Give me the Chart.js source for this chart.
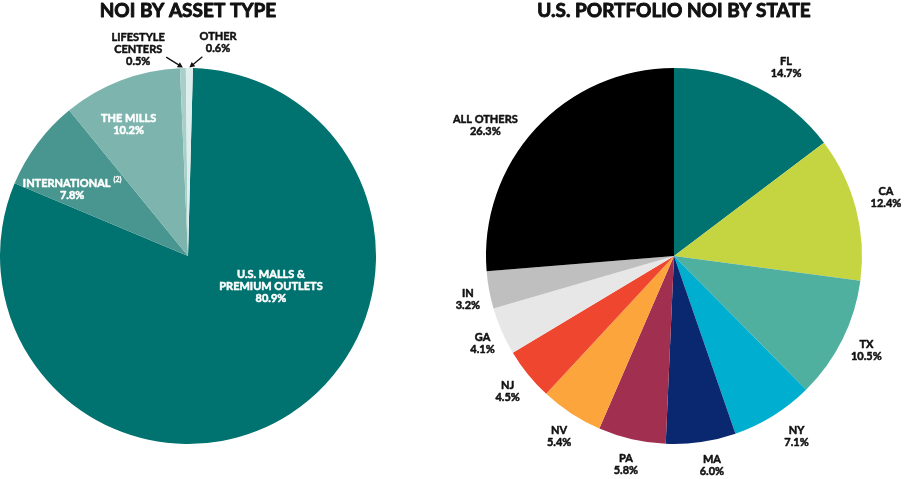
<!DOCTYPE html>
<html><head><meta charset="utf-8">
<script src="https://cdn.jsdelivr.net/npm/chart.js@4"></script>
<style>
html,body{margin:0;padding:0;background:#fff;}
#wrap{position:relative;width:904px;height:479px;overflow:hidden;}
canvas{position:absolute;top:0;}
</style></head><body>
<div id="wrap">
<canvas id="c1" width="452" height="479" style="left:0"></canvas>
<canvas id="c2" width="452" height="479" style="left:452px"></canvas>
</div>
<script>
// ---- data ----
const assetTitle = 'NOI BY ASSET TYPE';
const assetCategories = ['U.S. MALLS & PREMIUM OUTLETS', 'INTERNATIONAL', 'THE MILLS', 'LIFESTYLE CENTERS', 'OTHER'];
const assetLabelLines = [['U.S. MALLS &', 'PREMIUM OUTLETS'], ['INTERNATIONAL'], ['THE MILLS'], ['LIFESTYLE', 'CENTERS'], ['OTHER']];
const assetValues = [80.9, 7.8, 10.2, 0.5, 0.6];
const assetColors = ['#00726f', '#48968f', '#7db4ae', '#a9cfcb', '#ddeeec'];

const stateTitle = 'U.S. PORTFOLIO NOI BY STATE';
const stateCategories = ['FL', 'CA', 'TX', 'NY', 'MA', 'PA', 'NV', 'NJ', 'GA', 'IN', 'ALL OTHERS'];
const stateValues = [14.7, 12.4, 10.5, 7.1, 6.0, 5.8, 5.4, 4.5, 4.1, 3.2, 26.3];
const stateColors = ['#00726f', '#c5d541', '#4fb09f', '#00aed0', '#0a286f', '#a12f4f', '#fba53c', '#ef4630', '#e7e7e7', '#bfbfbf', '#000000'];

// ---- plugins ----
function heavyText(ctx, t, x, y, w) {
  ctx.lineWidth = w; ctx.lineJoin = 'round';
  ctx.strokeStyle = ctx.fillStyle;
  ctx.strokeText(t, x, y);
  ctx.fillText(t, x, y);
}

const pieTitle = {
  id: 'pieTitle',
  afterDraw(chart, args, o) {
    const ctx = chart.ctx, a = chart.chartArea;
    ctx.save();
    ctx.font = o.font; ctx.fillStyle = o.color;
    ctx.textAlign = 'center'; ctx.textBaseline = 'middle';
    heavyText(ctx, o.text, (a.left + a.right) / 2, o.y, o.stroke);
    ctx.restore();
  }
};

const pieLabels = {
  id: 'pieLabels',
  afterDatasetsDraw(chart, args, o) {
    const ctx = chart.ctx;
    const meta = chart.getDatasetMeta(0);
    const ds = chart.data.datasets[0];
    const rad = d => d * Math.PI / 180;
    meta.data.forEach((arc, i) => {
      const p = (o.place && o.place[i]) || {};
      const mid = (arc.startAngle + arc.endAngle) / 2;
      const ang = mid + rad(p.da || 0);
      const r = (p.r != null ? p.r : o.r) * arc.outerRadius;
      const x = arc.x + Math.cos(ang) * r, y = arc.y + Math.sin(ang) * r;
      const lines = o.lines[i].concat([ds.data[i].toFixed(1) + '%']);
      ctx.save();
      ctx.fillStyle = p.color || o.color;
      ctx.textBaseline = 'middle';
      const lh = o.lineHeight;
      const y0 = y - (lines.length - 1) * lh / 2;
      lines.forEach((t, k) => {
        ctx.font = o.font;
        const sup = (k === 0 && p.sup) ? p.sup : null;
        const w = ctx.measureText(t).width;
        let sw = 0;
        if (sup) { ctx.font = o.supFont; sw = ctx.measureText(sup).width + 3; ctx.font = o.font; }
        const left = x - (w + sw) / 2;
        ctx.textAlign = 'left';
        heavyText(ctx, t, left, y0 + k * lh, o.stroke);
        if (sup) {
          ctx.font = o.supFont;
          heavyText(ctx, sup, left + w + 3, y0 + k * lh - 4, 0.3);
        }
      });
      if (p.arrow) {
        const ta = mid + rad(p.arrow.da), tr = p.arrow.r * arc.outerRadius;
        const x1 = arc.x + Math.cos(ta) * tr, y1 = arc.y + Math.sin(ta) * tr;
        const hr = arc.outerRadius * 1.003;
        const x2 = arc.x + Math.cos(mid) * hr, y2 = arc.y + Math.sin(mid) * hr;
        const th = Math.atan2(y2 - y1, x2 - x1);
        ctx.strokeStyle = '#111'; ctx.fillStyle = '#111'; ctx.lineWidth = 1.3;
        ctx.beginPath(); ctx.moveTo(x1, y1);
        ctx.lineTo(x2 - Math.cos(th) * 4, y2 - Math.sin(th) * 4); ctx.stroke();
        ctx.beginPath();
        ctx.moveTo(x2, y2);
        ctx.lineTo(x2 - Math.cos(th - 0.5) * 6, y2 - Math.sin(th - 0.5) * 6);
        ctx.lineTo(x2 - Math.cos(th + 0.5) * 6, y2 - Math.sin(th + 0.5) * 6);
        ctx.closePath(); ctx.fill();
      }
      ctx.restore();
    });
  }
};

Chart.register(pieTitle, pieLabels);

const LABEL_FONT = 'bold 11px Lato';
const TITLE_FONT = 'bold 19px Lato';

new Chart(document.getElementById('c1'), {
  type: 'pie',
  data: {
    labels: assetCategories,
    datasets: [{ data: assetValues, backgroundColor: assetColors, borderWidth: 0 }]
  },
  options: {
    responsive: false, animation: false, events: [],
    rotation: 1.5,
    layout: { padding: { left: 0, right: 76, top: 68, bottom: 35 } },
    plugins: {
      legend: { display: false }, tooltip: { enabled: false },
      pieTitle: { text: assetTitle, font: TITLE_FONT, color: '#111', y: 11, stroke: 0.9 },
      pieLabels: {
        lines: assetLabelLines, font: LABEL_FONT, supFont: 'bold 7px Lato',
        color: '#fff', lineHeight: 12, r: 0.7, stroke: 0.5,
        place: [
          { r: 0.47, da: -37 },
          { r: 0.71, da: -7, sup: '(2)' },
          { r: 0.77, da: -3.4 },
          { r: 1.13, da: -12, color: '#111', arrow: { r: 1.064, da: -4.7 } },
          { r: 1.146, da: 7.6, color: '#111', arrow: { r: 1.062, da: 3.7 } }
        ]
      }
    }
  }
});

new Chart(document.getElementById('c2'), {
  type: 'pie',
  data: {
    labels: stateCategories,
    datasets: [{ data: stateValues, backgroundColor: stateColors, borderWidth: 0 }]
  },
  options: {
    responsive: false, animation: false, events: [],
    rotation: 0,
    layout: { padding: { left: 34, right: 42, top: 68, bottom: 35 } },
    plugins: {
      legend: { display: false }, tooltip: { enabled: false },
      pieTitle: { text: stateTitle, font: TITLE_FONT, color: '#111', y: 11, stroke: 0.9 },
      pieLabels: {
        lines: stateCategories.map(c => [c]), font: LABEL_FONT, supFont: 'bold 7px Lato',
        color: '#111', lineHeight: 12, r: 1.14, stroke: 0.5,
        place: [
          { r: 1.165, da: 4.3 },
          { r: 1.17, da: -0.8 },
          { r: 1.14, da: -0.3 },
          { r: 1.16, da: -2.3 },
          { r: 1.13, da: -2 },
          { r: 1.14, da: 0 },
          { r: 1.14, da: -0.7 },
          { r: 1.14, da: 0 },
          { r: 1.12, da: -1 },
          { r: 1.12, da: -1.4 },
          { r: 1.22, da: -8 }
        ]
      }
    }
  }
});
</script>
</body></html>
